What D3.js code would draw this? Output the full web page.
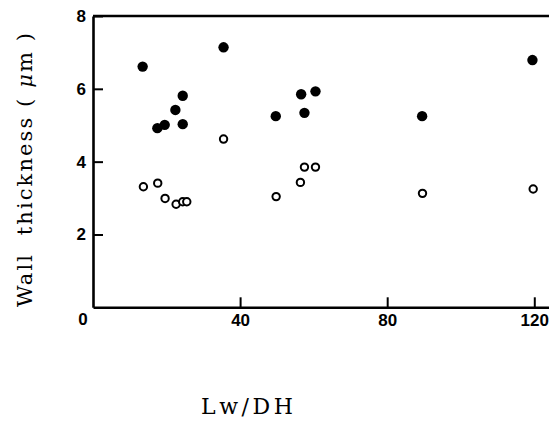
<!DOCTYPE html>
<html>
<head>
<meta charset="utf-8">
<script src="https://cdn.jsdelivr.net/npm/d3@7"></script>
<style>
  html, body { margin: 0; padding: 0; background: #fff; }
  svg { display: block; }
</style>
</head>
<body>
<svg id="chart" width="549" height="421"></svg>
<script>
// Data
const filledX = [13.5, 24.4, 22.4, 24.4, 17.5, 19.5, 35.5, 56.6, 60.5, 49.7, 57.5, 89.5, 119.5];
const filledY = [6.61, 5.81, 5.42, 5.03, 4.92, 5.01, 7.14, 5.85, 5.93, 5.25, 5.34, 5.25, 6.79];
const openX = [13.7, 17.6, 19.6, 22.6, 24.4, 25.5, 35.5, 57.5, 60.5, 56.4, 49.8, 89.6, 119.7];
const openY = [3.31, 3.41, 2.99, 2.83, 2.90, 2.90, 4.62, 3.85, 3.85, 3.43, 3.04, 3.13, 3.25];
const xTicks = [40, 80, 120];
const yTicks = [2, 4, 6, 8];
const xTitle = "Lw/DH";
const yTitleParts = ["Wall  thickness ( ", "\u03bc", "m )"];

const svg = d3.select("#chart");
const x = d3.scaleLinear().domain([0, 124]).range([93, 549]);
const y = d3.scaleLinear().domain([0, 8]).range([307.3, 16]);

const tickFont = "'Liberation Sans', Arial, sans-serif";
const serif = "'DejaVu Serif', 'Liberation Serif', serif";

// x axis
const gx = svg.append("g").attr("transform", `translate(0,${y(0)})`)
  .call(d3.axisBottom(x).tickValues(xTicks).tickSizeInner(-10).tickSizeOuter(0).tickPadding(7).tickFormat(d3.format("d")));
// y axis
const gy = svg.append("g").attr("transform", `translate(${x(0)},0)`)
  .call(d3.axisLeft(y).tickValues(yTicks).tickSizeInner(-10).tickSizeOuter(0).tickPadding(7).tickFormat(d3.format("d")));

[gx, gy].forEach(g => {
  g.select(".domain").attr("stroke", "#000").attr("stroke-width", 2.6);
  g.selectAll(".tick line").attr("stroke", "#000").attr("stroke-width", 2);
  g.selectAll(".tick text").attr("fill", "#000")
    .style("font-family", tickFont).style("font-size", "17px").style("font-weight", "bold");
});

// top border
svg.append("path")
  .attr("d", d3.line()([[x(0), y(8)], [x(124), y(8)]]))
  .attr("stroke", "#000").attr("stroke-width", 2.6).attr("fill", "none");

// shared origin label
svg.append("text")
  .attr("x", x(0) - 10).attr("y", y(0) + 18)
  .attr("text-anchor", "middle")
  .style("font-family", tickFont).style("font-size", "17px").style("font-weight", "bold")
  .text("0");

// filled points
svg.append("g").selectAll("circle")
  .data(filledX.map((v, i) => [v, filledY[i]]))
  .join("circle")
  .attr("cx", d => x(d[0])).attr("cy", d => y(d[1]))
  .attr("r", 5.2).attr("fill", "#000");

// open points
svg.append("g").selectAll("circle")
  .data(openX.map((v, i) => [v, openY[i]]))
  .join("circle")
  .attr("cx", d => x(d[0])).attr("cy", d => y(d[1]))
  .attr("r", 3.7).attr("fill", "#fff").attr("stroke", "#000").attr("stroke-width", 2);

// axis titles
const yt = svg.append("text")
  .attr("transform", "translate(32,170) rotate(-90)")
  .attr("text-anchor", "middle")
  .attr("textLength", 274).attr("lengthAdjust", "spacing")
  .style("font-family", serif).style("font-size", "21px")
  .style("white-space", "pre");
yt.selectAll("tspan").data(yTitleParts).join("tspan")
  .style("font-style", (d, i) => i === 1 ? "italic" : "normal")
  .text(d => d);

svg.append("text")
  .attr("x", 247).attr("y", 414)
  .attr("text-anchor", "middle")
  .attr("textLength", 92).attr("lengthAdjust", "spacing")
  .style("font-family", serif).style("font-size", "22px")
  .text(xTitle);
</script>
</body>
</html>
